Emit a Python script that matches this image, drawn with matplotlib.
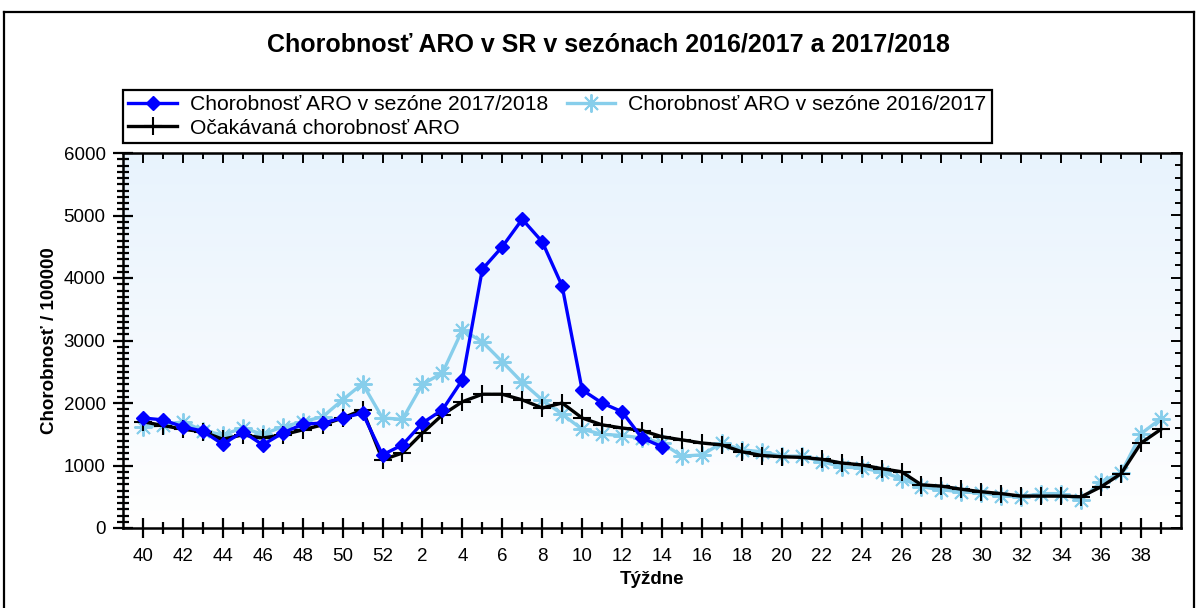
"""Chorobnost ARO v SR -- sezony 2016/2017 a 2017/2018 (tyzdenne hodnoty)."""

import matplotlib

matplotlib.use("Agg")
import matplotlib.pyplot as plt
import numpy as np
from matplotlib.lines import Line2D
from matplotlib.ticker import FixedLocator, MultipleLocator

plt.rcParams["font.family"] = ["Liberation Sans", "DejaVu Sans"]

# Tyzdne sezony: 40..52, potom 1..39
WEEKS = list(range(40, 53)) + list(range(1, 40))

# Chorobnost ARO v sezone 2017/2018 (tyzden 40 .. 14)
ARO_1718 = [1760, 1730, 1620, 1550, 1340, 1540, 1330, 1520, 1660, 1680, 1760, 1840, 1170,
            1330, 1680, 1890, 2370, 4140, 4500, 4940, 4580, 3870, 2210, 2000, 1860, 1440, 1300]

# Chorobnost ARO v sezone 2016/2017 (tyzden 40 .. 39)
ARO_1617 = [1620, 1650, 1700, 1560, 1490, 1600, 1500, 1620, 1700, 1780, 2050, 2310, 1760,
            1740, 2300, 2480, 3170, 2980, 2660, 2330, 2050, 1820, 1580, 1500, 1480, 1440,
            1360, 1150, 1170, 1360, 1250, 1220, 1150, 1150, 1060, 980, 960, 900, 790, 660,
            610, 580, 560, 520, 500, 550, 550, 450, 740, 880, 1510, 1750]

# Ocakavana chorobnost ARO (tyzden 40 .. 39)
ARO_EXP = [1700, 1640, 1580, 1540, 1420, 1490, 1440, 1490, 1570, 1650, 1760, 1890, 1090,
           1200, 1520, 1810, 2020, 2140, 2140, 2050, 1920, 2000, 1760, 1650, 1600, 1560,
           1460, 1410, 1360, 1330, 1220, 1160, 1140, 1130, 1100, 1040, 1010, 950, 900, 690,
           670, 620, 580, 550, 510, 510, 510, 500, 660, 870, 1360, 1580]

BLUE = "#0000ff"
SKY = "#87ceeb"


def main() -> None:
    fig = plt.figure(figsize=(11.98, 6.08), dpi=100)
    ax = fig.add_axes([123 / 1198, 1 - 528 / 608, (1181 - 123) / 1198, (528 - 153) / 608])

    idx = np.arange(len(WEEKS))

    # light-blue gradient background
    grad = np.linspace(0, 1, 256).reshape(-1, 1)
    top = np.array([0.91, 0.953, 0.992])
    bot = np.array([1.0, 1.0, 1.0])
    img = bot + (top - bot) * grad[:, :, None] * np.ones((1, 1, 3))
    ax.imshow(img, extent=(-1, 52, 0, 6000), origin="lower", aspect="auto", zorder=0)

    ax.plot(idx, ARO_1617, color=SKY, lw=2.4, marker=(8, 2, 0), ms=13, mew=1.4,
            label="Chorobnosť ARO v sezóne 2016/2017", zorder=2)
    ax.plot(idx, ARO_EXP, color="black", lw=2.4, marker="+", ms=13, mew=1.5,
            label="Očakávaná chorobnosť ARO", zorder=3)
    ax.plot(idx[:len(ARO_1718)], ARO_1718, color=BLUE, lw=2.4, marker="D", ms=7,
            label="Chorobnosť ARO v sezóne 2017/2018", zorder=4)

    ax.set_xlim(-1, 52)
    ax.set_ylim(0, 6000)

    major_idx = idx[::2]
    ax.xaxis.set_major_locator(FixedLocator(major_idx))
    ax.set_xticklabels([str(WEEKS[i]) for i in major_idx])
    ax.xaxis.set_minor_locator(FixedLocator(idx[1::2]))
    ax.yaxis.set_major_locator(MultipleLocator(1000))
    ax.yaxis.set_minor_locator(MultipleLocator(100))

    ax.tick_params(which="major", direction="inout", length=15, width=1.6,
                   labelsize=13.5, pad=5)
    ax.tick_params(which="minor", direction="inout", length=8, width=1.6)
    ax.tick_params(axis="x", which="major", pad=7)

    for sp in ax.spines.values():
        sp.set_linewidth(1.8)

    # inward ticks on the top and right frame
    sec_x = ax.secondary_xaxis("top")
    sec_x.xaxis.set_major_locator(FixedLocator(major_idx))
    sec_x.xaxis.set_minor_locator(FixedLocator(idx[1::2]))
    sec_x.tick_params(which="both", direction="in", labeltop=False, width=1.4)
    sec_x.tick_params(which="major", length=7)
    sec_x.tick_params(which="minor", length=4)
    sec_y = ax.secondary_yaxis("right")
    sec_y.yaxis.set_major_locator(MultipleLocator(1000))
    sec_y.yaxis.set_minor_locator(MultipleLocator(200))
    sec_y.tick_params(which="both", direction="in", labelright=False, width=1.4)
    sec_y.tick_params(which="major", length=7)
    sec_y.tick_params(which="minor", length=4)

    ax.set_xlabel("Týždne", fontsize=13.5, fontweight="bold", labelpad=4)
    ax.set_ylabel("Chorobnosť / 100000", fontsize=13.5, fontweight="bold", labelpad=4)

    fig.text(608 / 1198, 1 - 45 / 608, "Chorobnosť ARO v SR v sezónach 2016/2017 a 2017/2018",
             ha="center", va="center", fontsize=18, fontweight="bold")

    # legend: column 1 = 2017/2018 and expected, column 2 = 2016/2017
    handles, labels = ax.get_legend_handles_labels()
    order = [2, 1, 0]
    leg = fig.legend([handles[i] for i in order], [labels[i] for i in order],
                     loc="upper left", bbox_to_anchor=(123 / 1198, 1 - 90 / 608),
                     ncol=2, fontsize=15.2, frameon=True, fancybox=False,
                     edgecolor="black", framealpha=1, borderpad=0.25, labelspacing=0.2,
                     handlelength=2.3, handletextpad=0.6, columnspacing=0.9,
                     borderaxespad=0)
    leg.get_frame().set_linewidth(1.6)

    # outer frame of the chart
    for xs, ys in (([4, 4], [0, 596]), ([4, 1194], [596, 596]), ([1194, 1194], [596, 0])):
        fig.add_artist(Line2D([x / 1198 for x in xs], [y / 608 for y in ys],
                              color="black", lw=1.6))

    fig.savefig("out.png", dpi=100)


if __name__ == "__main__":
    main()
